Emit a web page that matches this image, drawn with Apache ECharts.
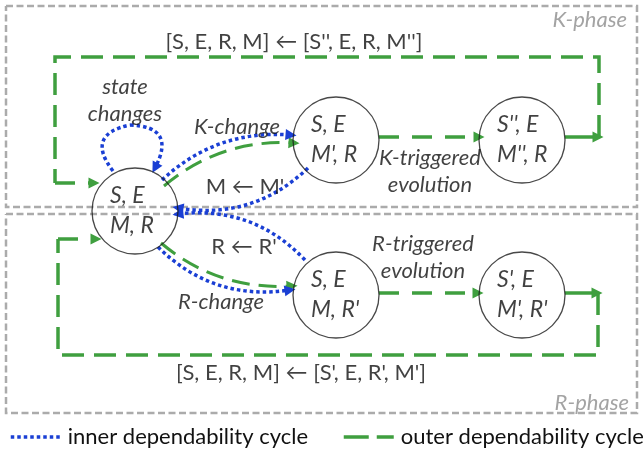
<!DOCTYPE html>
<html><head><meta charset="utf-8">
<script src="https://cdn.jsdelivr.net/npm/echarts@6/dist/echarts.min.js"></script>
<style>html,body{margin:0;padding:0;background:#fff}#c{width:643px;height:452px}</style>
</head><body><div id="c"></div>
<script>
// ---- Diagram data (diagram units: x 0..643, y 0..452 top-down) ----
const nodeLabels = ['S, E\nM, R', "S, E\nM', R", "S'', E\nM'', R", "S, E\nM, R'", "S', E\nM', R'"];
const nodeX = [135, 336, 522, 336, 522];
const nodeY = [211, 140, 140, 295, 295];

// phase boxes (closed rectangles)
const boxK = [[6, 6], [637, 6], [637, 207], [6, 207], [6, 6]];
const boxR = [[6, 214], [637, 214], [637, 413], [6, 413], [6, 214]];

// outer (green) cycle
const outerLoopK = [[599, 137], [599, 57], [55, 57], [55, 183]];
const outerLoopR = [[598, 293], [598, 355], [58, 355], [58, 239]];
const outerArrowFrom = [[55, 183], [58, 239], [379, 137], [379, 293]];
const outerArrowTo   = [[94, 183], [96, 239], [479, 137], [478, 293]];
const outerSolidFrom = [[565, 137], [565, 293]];
const outerSolidTo   = [[598, 137], [597, 293]];
const outerCurveFrom = [[164, 186], [161, 243]];
const outerCurveTo   = [[294, 143], [292, 286]];
const outerCurveBend = [0.2, -0.2];

// inner (blue) cycle
const innerFrom = [[113, 171], [308, 168], [305, 260], [162, 180], [158, 247]];
const innerTo   = [[130, 125], [178, 208], [178, 214], [291, 135], [290, 290]];
const innerBend = [0.8, 0.25, -0.25, 0.22, -0.25];
const innerArrow = [false, true, true, true, true];
const selfLoopEndFrom = [[130, 125]];
const selfLoopEndTo = [[155, 168]];

// texts
const italicTexts = ['state\nchanges', 'K-change', 'K-triggered\nevolution', 'R-triggered\nevolution', 'R-change'];
const italicX = [125, 237, 430, 423, 221];
const italicY = [100, 127, 171, 257, 302];
const plainTexts = ["[S, E, R, M] \u2190 [S'', E, R, M'']", "[S, E, R, M] \u2190 [S', E, R', M']", "M \u2190 M'", "R \u2190 R'"];
const plainX = [294, 301, 245, 244];
const plainY = [42, 373, 187, 247];
const phaseTexts = ['K-phase', 'R-phase'];
const phaseX = [627, 629];
const phaseY = [20, 403];

const legendNames = ['inner dependability cycle', 'outer dependability cycle'];

// ---- styles ----
const FONT = 'Lato, "Open Sans", sans-serif';
const GREEN = '#3f9f3f';
const BLUE = '#1a3fd4';
const GRAY = '#ababab';
const greenDash = [22, 10];
const blueDot = [3.5, 3];

function seg(a, b, extra) { return Object.assign({ coords: [a, b] }, extra || {}); }

const chart = echarts.init(document.getElementById('c'), null, { renderer: 'canvas' });

const series = [
  { type: 'lines', name: 'boxes', coordinateSystem: 'cartesian2d', polyline: true, silent: true,
    lineStyle: { color: GRAY, width: 2.5, type: [7, 3.5], opacity: 1 },
    data: [{ coords: boxK }, { coords: boxR }], z: 1 },
  { type: 'lines', name: 'outerLoops', coordinateSystem: 'cartesian2d', polyline: true, silent: true,
    lineStyle: { color: GREEN, width: 3.5, type: greenDash, opacity: 1 },
    data: [{ coords: outerLoopK }, { coords: outerLoopR }], z: 2 },
  { type: 'lines', name: 'outerArrows', coordinateSystem: 'cartesian2d', silent: true,
    symbol: ['none', 'triangle'], symbolSize: [11, 11],
    lineStyle: { color: GREEN, width: 3.5, type: [20, 13], opacity: 1 },
    data: outerArrowFrom.map((p, i) => seg(p, outerArrowTo[i])), z: 2 },
  { type: 'lines', name: 'outerSolid', coordinateSystem: 'cartesian2d', silent: true,
    symbol: ['none', 'triangle'], symbolSize: [11, 11],
    lineStyle: { color: GREEN, width: 3.5, type: 'solid', opacity: 1 },
    data: outerSolidFrom.map((p, i) => seg(p, outerSolidTo[i])), z: 2 },
  { type: 'lines', name: 'outerCurves', coordinateSystem: 'cartesian2d', silent: true,
    symbol: ['none', 'triangle'], symbolSize: [11, 11],
    lineStyle: { color: GREEN, width: 3, type: [18, 9], opacity: 1 },
    data: outerCurveFrom.map((p, i) => seg(p, outerCurveTo[i], { lineStyle: { curveness: outerCurveBend[i] } })), z: 3 },
  { type: 'lines', name: 'innerNoArrow', coordinateSystem: 'cartesian2d', silent: true,
    symbol: ['none', 'none'],
    lineStyle: { color: BLUE, width: 3.5, type: blueDot, opacity: 1 },
    data: innerFrom.map((p, i) => innerArrow[i] ? null : seg(p, innerTo[i], { lineStyle: { curveness: innerBend[i] } })).filter(Boolean), z: 4 },
  { type: 'lines', name: 'innerArrow', coordinateSystem: 'cartesian2d', silent: true,
    symbol: ['none', 'triangle'], symbolSize: [11, 11],
    lineStyle: { color: BLUE, width: 3.5, type: blueDot, opacity: 1 },
    data: innerFrom.map((p, i) => innerArrow[i] ? seg(p, innerTo[i], { lineStyle: { curveness: innerBend[i] } }) : null).filter(Boolean)
      .concat(selfLoopEndFrom.map((p, i) => seg(p, selfLoopEndTo[i], { lineStyle: { curveness: 0.8 } }))), z: 4 },
  { type: 'scatter', name: 'nodes', silent: true, symbol: 'circle', symbolSize: [86, 86],
    itemStyle: { color: 'rgba(255,255,255,0)', borderColor: '#1a1a1a', borderWidth: 1.3 },
    label: { show: true, position: 'inside', align: 'left', verticalAlign: 'middle', offset: [-25, 0],
      formatter: p => p.name, fontFamily: FONT, fontStyle: 'italic', fontSize: 23, lineHeight: 30, color: '#111' },
    data: nodeLabels.map((n, i) => ({ name: n, value: [nodeX[i], nodeY[i]] })), z: 5 },
  { type: 'scatter', name: 'italicText', silent: true, symbolSize: 0,
    label: { show: true, position: 'inside', formatter: p => p.name, fontFamily: FONT, fontStyle: 'italic',
      fontSize: 22, lineHeight: 27, color: '#111', align: 'center' },
    data: italicTexts.map((t, i) => ({ name: t, value: [italicX[i], italicY[i]] })), z: 6 },
  { type: 'scatter', name: 'plainText', silent: true, symbolSize: 0,
    label: { show: true, position: 'inside', formatter: p => p.name, fontFamily: FONT,
      fontSize: 22, color: '#111', align: 'center' },
    data: plainTexts.map((t, i) => ({ name: t, value: [plainX[i], plainY[i]] })), z: 6 },
  { type: 'scatter', name: 'phaseText', silent: true, symbolSize: 0,
    label: { show: true, position: 'inside', formatter: p => p.name, fontFamily: FONT, fontStyle: 'italic',
      fontSize: 22, color: '#8c8c8c', align: 'right' },
    data: phaseTexts.map((t, i) => ({ name: t, value: [phaseX[i], phaseY[i]] })), z: 6 },
  { type: 'line', name: legendNames[0], data: [], symbol: 'none',
    lineStyle: { color: BLUE, width: 3.5, type: blueDot }, itemStyle: { color: BLUE } },
  { type: 'line', name: legendNames[1], data: [], symbol: 'none',
    lineStyle: { color: GREEN, width: 3.5, type: [25, 8] }, itemStyle: { color: GREEN } }
];

const legendCommon = {
  top: 421, itemWidth: 50, itemHeight: 14, itemGap: 10, selectedMode: false,
  itemStyle: { opacity: 0 },
  textStyle: { fontFamily: FONT, fontSize: 22, color: '#111', padding: [0, 0, 0, 2] }
};

chart.setOption({
  animation: false,
  backgroundColor: '#fff',
  grid: { left: 0, right: 0, top: 0, bottom: 0 },
  xAxis: { type: 'value', min: 0, max: 643, show: false },
  yAxis: { type: 'value', min: 0, max: 452, inverse: true, show: false },
  legend: [
    Object.assign({}, legendCommon, { data: [legendNames[0]], left: 4,
      lineStyle: { color: BLUE, width: 3.5, type: blueDot, opacity: 1 } }),
    Object.assign({}, legendCommon, { data: [legendNames[1]], left: 337,
      lineStyle: { color: GREEN, width: 3.5, type: [25, 8], opacity: 1 } })
  ],
  series: series
});
</script></body></html>
